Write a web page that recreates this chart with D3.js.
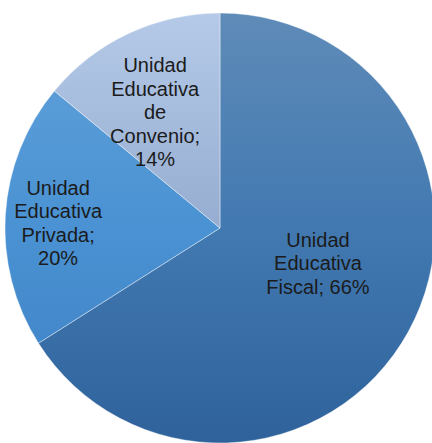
<!DOCTYPE html>
<html>
<head>
<meta charset="utf-8">
<script src="https://cdn.jsdelivr.net/npm/d3@7"></script>
<style>
  body { margin: 0; background: #fff; }
  svg { display: block; }
</style>
</head>
<body>
<svg class="chart"></svg>
<script>
// Chart data
const categories = ["Unidad Educativa Fiscal", "Unidad Educativa Privada", "Unidad Educativa de Convenio"];
const values = [66, 20, 14];
const pctLabels = ["66%", "20%", "14%"];

// Colours (top / middle / bottom of the vertical gradient)
const topColors = ["#5f8bb8", "#62a2da", "#b5cae8"];
const midColors = ["#4279b1", "#4a92d3", "#96add1"];
const bottomColors = ["#2f629b", "#3c7fc2", "#849cc4"];

// Label placement: polar position (degrees clockwise from 12 o'clock, radius) and wrap width
const labelAngle = [109.6, 271.8, 330.8];
const labelRadius = [104, 162, 133];
const wrapWidth = [120, 95, 95];

const width = 432, height = 443;
const cx = 220, cy = 228, radius = 215;
const fontSize = 20, lineHeight = 23.5, capHeight = 14.3;

const svg = d3.select(".chart")
  .attr("width", width)
  .attr("height", height);

// Gradients
const defs = svg.append("defs");
categories.forEach(function (c, i) {
  const g = defs.append("linearGradient")
    .attr("id", "grad" + i)
    .attr("gradientUnits", "userSpaceOnUse")
    .attr("x1", 0).attr("y1", -radius)
    .attr("x2", 0).attr("y2", radius);
  g.append("stop").attr("offset", "0%").attr("stop-color", topColors[i]);
  g.append("stop").attr("offset", "50%").attr("stop-color", midColors[i]);
  g.append("stop").attr("offset", "100%").attr("stop-color", bottomColors[i]);
});

const pie = d3.pie().sort(null).value(function (d) { return d; });
const arc = d3.arc().innerRadius(0).outerRadius(radius);

const arcs = pie(values);

const g = svg.append("g")
  .attr("transform", "translate(" + cx + "," + cy + ")");

g.selectAll("path.slice")
  .data(arcs)
  .enter()
  .append("path")
  .attr("class", "slice")
  .attr("d", arc)
  .attr("fill", function (d, i) { return "url(#grad" + i + ")"; })
  .attr("stroke", "rgba(255,255,255,0.5)")
  .attr("stroke-width", 0.8);

// Measure text for wrapping
const measurer = svg.append("text")
  .style("font-family", "'Liberation Sans', Arial, sans-serif")
  .style("font-size", fontSize + "px");
function textWidth(s) {
  measurer.text(s);
  return measurer.node().getComputedTextLength();
}

function wrap(str, maxW) {
  const words = str.split(" ");
  const lines = [];
  let cur = "";
  words.forEach(function (w) {
    const t = cur ? cur + " " + w : w;
    if (cur && textWidth(t) > maxW) {
      lines.push(cur);
      cur = w;
    } else {
      cur = t;
    }
  });
  if (cur) lines.push(cur);
  return lines;
}

const labels = categories.map(function (c, i) {
  const words = c.split(" ");
  words[words.length - 1] += ";";
  return wrap(words.join(" ") + " " + pctLabels[i], wrapWidth[i]);
});
measurer.remove();

g.selectAll("text.label")
  .data(arcs)
  .enter()
  .append("text")
  .attr("class", "label")
  .attr("text-anchor", "middle")
  .style("font-family", "'Liberation Sans', Arial, sans-serif")
  .style("font-size", fontSize + "px")
  .attr("fill", "#1b1b1b")
  .each(function (d, i) {
    const a = labelAngle[i] * Math.PI / 180;
    const x = labelRadius[i] * Math.sin(a);
    const y = -labelRadius[i] * Math.cos(a);
    const lines = labels[i];
    const blockH = (lines.length - 1) * lineHeight + capHeight;
    const firstBase = y - blockH / 2 + capHeight;
    const t = d3.select(this);
    lines.forEach(function (l, j) {
      t.append("tspan")
        .attr("x", x)
        .attr("y", firstBase + j * lineHeight)
        .text(l);
    });
  });
</script>
</body>
</html>
